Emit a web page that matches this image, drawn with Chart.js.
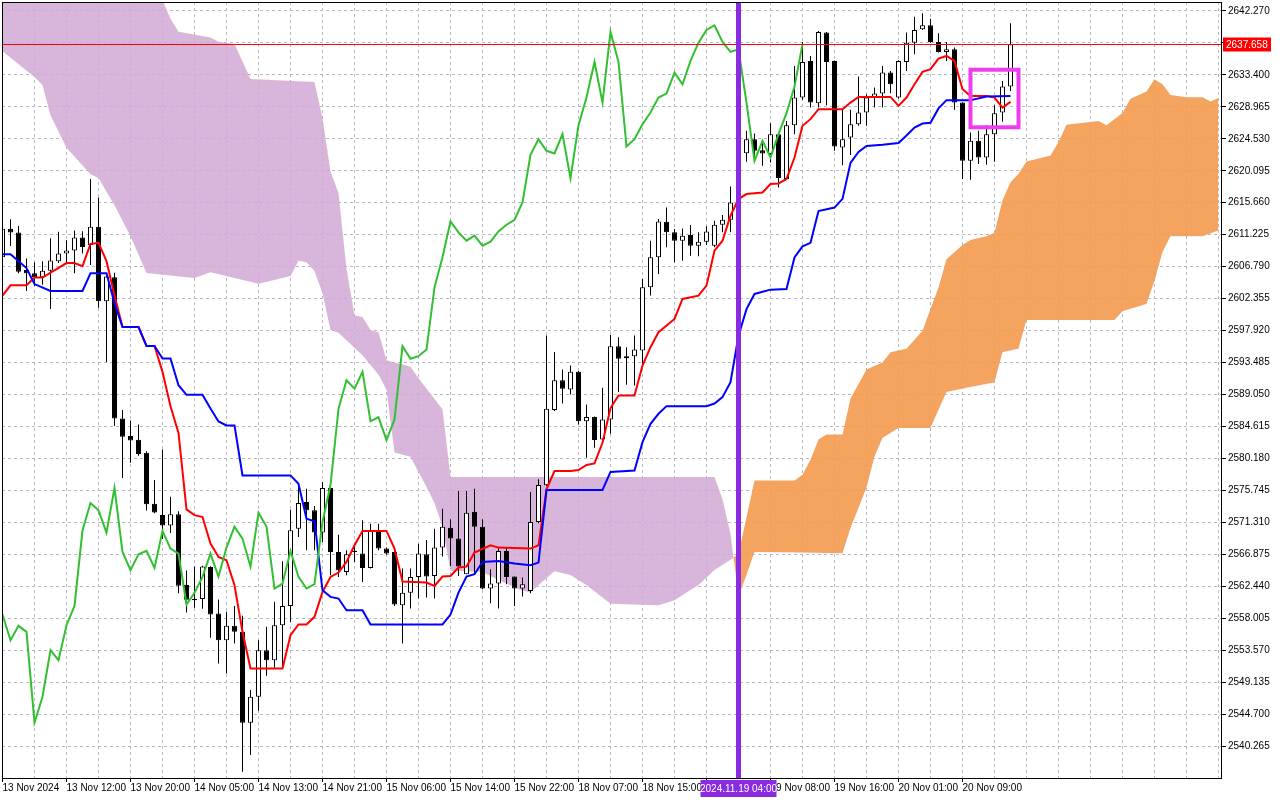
<!DOCTYPE html>
<html>
<head>
<meta charset="utf-8">
<script src="https://cdn.jsdelivr.net/npm/chart.js@4.4.1/dist/chart.umd.min.js"></script>
<style>
  html, body { margin: 0; padding: 0; background: #ffffff; }
  #chart { display: block; }
</style>
</head>
<body>
<canvas id="chart" width="1280" height="800"></canvas>
<script>
// H1 candles, bar 0 = 13 Nov 2024 04:00 ... bar 126 = 20 Nov 15:00
const opens = [2608.08, 2612.06, 2611.53, 2606.33, 2605.86, 2605.33, 2606.23, 2607.55, 2608.61, 2609.04,
  2610.84, 2609.78, 2612.32, 2601.99, 2605.33, 2585.72, 2583.28, 2582.75, 2580.95, 2573.90,
  2572.31, 2570.88, 2572.42, 2562.62, 2560.71, 2560.66, 2565.12, 2558.65, 2554.95, 2556.94,
  2556.11, 2543.50, 2547.10, 2553.57, 2552.18, 2557.03, 2559.71, 2570.43, 2574.13, 2572.97,
  2569.88, 2576.07, 2567.20, 2564.43, 2567.20, 2566.97, 2564.98, 2570.11, 2567.66, 2567.20,
  2559.80, 2561.52, 2563.73, 2566.87, 2563.87, 2567.80, 2570.57, 2569.05, 2564.10, 2572.79,
  2570.71, 2562.12, 2562.81, 2567.34, 2563.78, 2562.12, 2561.79, 2571.36, 2576.44, 2586.88,
  2591.04, 2589.74, 2592.19, 2585.35, 2585.91, 2582.81, 2585.58, 2595.75, 2594.08, 2594.36,
  2595.15, 2603.92, 2608.11, 2613.03, 2611.55, 2610.39, 2611.18, 2609.70, 2610.25, 2609.70,
  2612.61, 2613.30, 2615.71, 2622.54, 2624.48, 2622.96, 2622.41, 2625.18, 2618.94, 2626.42,
  2630.26, 2635.34, 2629.47, 2639.27, 2635.34, 2623.33, 2624.71, 2626.56, 2628.18, 2630.26,
  2630.81, 2633.72, 2630.26, 2635.20, 2637.88, 2639.73, 2640.28, 2637.97, 2636.59, 2636.96,
  2629.56, 2621.48, 2624.25, 2621.94, 2625.18, 2628.18, 2631.78];
const highs = [2612.30, 2613.38, 2612.43, 2607.92, 2607.39, 2607.55, 2610.73, 2611.63, 2610.47, 2611.79,
  2611.69, 2618.95, 2616.40, 2605.54, 2605.96, 2586.89, 2585.45, 2584.87, 2581.16, 2577.19,
  2581.43, 2574.86, 2572.84, 2564.63, 2565.16, 2565.27, 2565.20, 2560.59, 2558.88, 2559.71,
  2558.33, 2548.03, 2554.95, 2556.80, 2560.27, 2565.90, 2573.06, 2576.21, 2575.98, 2573.57,
  2576.90, 2576.21, 2569.60, 2567.43, 2568.12, 2571.59, 2571.12, 2571.12, 2567.80, 2567.30,
  2564.89, 2564.89, 2568.35, 2568.86, 2570.43, 2573.20, 2571.72, 2575.65, 2575.65, 2575.97,
  2571.72, 2564.79, 2567.80, 2567.80, 2563.80, 2563.64, 2575.51, 2577.27, 2597.23, 2594.96,
  2592.51, 2593.07, 2592.30, 2587.66, 2586.00, 2589.97, 2597.30, 2597.00, 2595.61, 2597.23,
  2605.08, 2610.39, 2613.40, 2615.01, 2612.01, 2612.10, 2612.56, 2611.55, 2612.38, 2613.16,
  2613.95, 2617.92, 2622.80, 2625.64, 2625.27, 2624.25, 2626.70, 2625.30, 2627.02, 2634.65,
  2637.97, 2636.03, 2639.50, 2639.36, 2635.40, 2628.55, 2628.55, 2633.17, 2630.72, 2631.64,
  2634.65, 2633.95, 2635.43, 2639.27, 2641.48, 2641.95, 2641.21, 2639.17, 2637.97, 2637.19,
  2629.60, 2625.41, 2625.64, 2626.42, 2629.20, 2632.57, 2640.56];
const lows = [2607.80, 2609.67, 2605.86, 2603.42, 2604.11, 2604.27, 2600.93, 2607.29, 2607.13, 2605.86,
  2608.61, 2607.02, 2601.09, 2593.51, 2584.66, 2577.45, 2579.57, 2580.53, 2572.95, 2572.58,
  2568.98, 2569.82, 2561.45, 2558.80, 2559.44, 2559.33, 2555.28, 2551.72, 2550.33, 2554.49,
  2536.70, 2539.02, 2545.16, 2550.01, 2551.12, 2551.12, 2557.49, 2569.28, 2567.43, 2567.43,
  2568.58, 2563.96, 2563.73, 2563.96, 2565.81, 2563.04, 2564.89, 2567.43, 2566.80, 2559.71,
  2554.49, 2559.34, 2560.73, 2560.87, 2560.73, 2566.55, 2565.26, 2563.87, 2564.10, 2564.10,
  2562.02, 2560.08, 2559.34, 2562.71, 2559.71, 2561.01, 2561.47, 2571.17, 2576.34, 2586.74,
  2587.80, 2589.05, 2584.89, 2580.27, 2581.66, 2582.72, 2583.60, 2589.40, 2590.39, 2590.29,
  2592.84, 2602.77, 2605.77, 2609.47, 2607.39, 2607.62, 2608.31, 2608.22, 2609.79, 2609.47,
  2611.55, 2611.55, 2614.90, 2621.34, 2621.48, 2620.79, 2621.25, 2617.78, 2618.80, 2625.18,
  2629.94, 2628.87, 2628.87, 2629.20, 2622.87, 2620.88, 2622.27, 2626.33, 2626.33, 2628.87,
  2628.87, 2630.86, 2630.12, 2633.95, 2636.26, 2639.64, 2637.88, 2636.50, 2635.34, 2628.55,
  2618.94, 2618.85, 2621.02, 2620.93, 2621.34, 2626.89, 2631.18];
const closes = [2612.06, 2611.53, 2606.07, 2605.86, 2605.33, 2606.23, 2607.66, 2608.61, 2609.04, 2610.84,
  2609.51, 2612.32, 2601.99, 2605.43, 2585.72, 2583.18, 2582.65, 2580.79, 2573.80, 2572.68,
  2570.88, 2572.42, 2562.51, 2560.55, 2560.50, 2565.16, 2558.51, 2554.95, 2556.94, 2556.11,
  2543.50, 2547.10, 2553.57, 2552.18, 2557.03, 2559.71, 2570.20, 2573.99, 2572.97, 2569.88,
  2576.07, 2567.20, 2564.66, 2566.87, 2567.35, 2564.98, 2570.11, 2567.66, 2566.97, 2559.90,
  2561.52, 2563.73, 2566.97, 2563.78, 2567.80, 2570.71, 2569.05, 2565.16, 2572.65, 2570.71,
  2562.12, 2562.81, 2567.34, 2563.73, 2562.12, 2562.72, 2571.36, 2576.48, 2587.06, 2591.04,
  2589.84, 2592.19, 2585.35, 2585.91, 2582.72, 2585.58, 2595.75, 2594.00, 2594.36, 2595.29,
  2603.92, 2608.11, 2613.07, 2611.55, 2610.39, 2611.09, 2609.70, 2610.25, 2611.68, 2612.61,
  2613.30, 2615.71, 2622.30, 2624.48, 2622.87, 2622.50, 2625.18, 2619.08, 2626.42, 2630.26,
  2635.20, 2629.56, 2639.36, 2635.20, 2623.47, 2624.48, 2626.56, 2628.18, 2630.26, 2630.81,
  2633.72, 2632.11, 2635.34, 2637.88, 2639.64, 2640.28, 2637.97, 2636.59, 2636.96, 2629.56,
  2621.48, 2624.25, 2621.94, 2625.18, 2628.09, 2631.78, 2637.658];

// time labels, one every 8 bars from bar 0
const timeLabels = ["13 Nov 2024", "13 Nov 12:00", "13 Nov 20:00", "14 Nov 05:00", "14 Nov 13:00",
  "14 Nov 21:00", "15 Nov 06:00", "15 Nov 14:00", "15 Nov 22:00", "18 Nov 07:00", "18 Nov 15:00",
  "19 Nov 00:00", "19 Nov 08:00", "19 Nov 16:00", "20 Nov 01:00", "20 Nov 09:00"];
// price axis labels, bottom to top
const priceTicks = [2540.265, 2544.700, 2549.135, 2553.570, 2558.005, 2562.440, 2566.875, 2571.310,
  2575.745, 2580.180, 2584.615, 2589.050, 2593.485, 2597.920, 2602.355, 2606.790, 2611.225,
  2615.660, 2620.095, 2624.530, 2628.965, 2633.400, 2637.835, 2642.270];

// ichimoku lines as [bar, price] where the line turns
const tenkan = [[0,2602.78],[1,2604.2],[3,2604.2],[4,2605.27],[5,2605.27],[8,2607.29],[9,2607.29],[10,2606.86],
  [11,2609.94],[12,2610.1],[13,2607.55],[14,2602.78],[15,2598.4],[17,2598.4],[18,2595.79],[19,2595.79],
  [20,2592.19],[21,2587.42],[22,2583.71],[23,2573.11],[24,2572.31],[25,2572.05],[26,2568.35],[27,2566.5],
  [28,2566.04],[29,2562.58],[30,2556.11],[31,2551.03],[35,2551.03],[36,2555.65],[37,2557.13],[38,2557.13],
  [39,2558.19],[40,2561.65],[41,2563.73],[42,2564.33],[43,2565.81],[44,2568.12],[45,2570.11],[48,2570.11],
  [49,2567.66],[50,2563.1],[53,2562.95],[54,2562.48],[55,2563.78],[56,2563.87],[57,2565.03],[58,2565.16],
  [59,2567.11],[61,2568.12],[62,2567.8],[66,2567.66],[67,2568.12],[68,2575.88],[69,2578.42],[71,2578.42],
  [72,2578.56],[73,2579.26],[74,2579.49],[75,2582.35],[76,2587.15],[77,2588.91],[79,2588.91],[80,2593.07],
  [81,2595.61],[82,2597.69],[84,2599.53],[85,2602.31],[87,2602.77],[88,2604.16],[89,2609.01],[90,2610.39],
  [91,2613.86],[92,2616.17],[93,2616.86],[95,2617.09],[96,2618.25],[97,2618.34],[98,2618.94],[99,2621.94],
  [100,2626.33],[101,2627.26],[102,2628.64],[105,2628.64],[106,2629.56],[107,2630.35],[111,2630.35],
  [112,2629.1],[113,2630.26],[114,2632.11],[115,2633.82],[116,2634.19],[117,2635.66],[118,2636.03],
  [119,2635.34],[120,2631.41],[121,2630.49],[123,2630.49],[124,2630.26],[125,2628.87],[126,2629.66]];
const kijun = [[0,2608.5],[1,2608.5],[3,2606.6],[4,2604.37],[6,2603.42],[10,2603.42],[11,2605.86],[13,2605.86],
  [14,2601.72],[15,2598.4],[17,2598.4],[18,2595.79],[19,2595.79],[20,2594.04],[21,2594.04],[22,2590.33],
  [23,2589.0],[25,2589.0],[26,2587.1],[27,2585.3],[28,2584.75],[29,2584.75],[30,2577.82],[36,2577.82],
  [37,2576.67],[38,2571.82],[39,2571.45],[40,2561.88],[41,2560.96],[42,2560.73],[43,2559.11],[45,2559.11],
  [46,2557.13],[55,2557.13],[56,2558.5],[57,2561.56],[58,2563.78],[59,2564.10],[60,2565.81],[62,2565.95],
  [64,2565.58],[66,2565.35],[67,2565.72],[68,2575.79],[75,2575.79],[76,2578.3],[79,2578.5],[80,2582.44],
  [81,2584.98],[82,2586.37],[83,2587.43],[88,2587.43],[89,2587.8],[90,2588.68],[91,2590.76],[92,2597.2],
  [93,2600.9],[94,2603.0],[96,2603.6],[98,2603.69],[99,2608.07],[100,2609.6],[101,2610.1],[102,2614.5],
  [104,2614.99],[105,2616.2],[106,2621.2],[107,2622.7],[108,2623.55],[110,2623.7],[112,2623.95],[113,2625.0],
  [114,2626.1],[115,2626.65],[116,2626.75],[117,2628.75],[118,2629.9],[121,2629.9],[123,2630.4],[126,2630.49]];
// cloud edges (senkou span A / B), already shifted 26 bars ahead
const spanA = [[0,2636.7],[4,2633.1],[5,2632.0],[6,2627.8],[8,2623.3],[11,2619.6],[12,2619.1],[14,2615.3],
  [16,2611.0],[18,2605.9],[24,2605.2],[26,2606.0],[32,2604.4],[36,2605.5],[37,2607.6],[38,2607.4],
  [39,2606.2],[40,2603.1],[41,2598.0],[42,2597.6],[45,2594.5],[47,2591.8],[48,2589.7],[49,2581.0],
  [51,2580.4],[53,2576.2],[54,2574.0],[55,2570.7],[56,2564.6],[60,2564.4],[62,2563.3],[65,2561.8],
  [66,2561.6],[67,2562.6],[69,2564.5],[71,2564.0],[73,2562.6],[76,2560.0],[82,2559.8],[84,2560.5],
  [86,2561.9],[87,2562.6],[89,2564.7],[91,2566.1],[92,2566.9],[93,2572.0],[94,2577.1],[99,2577.1],
  [100,2577.9],[101,2580.0],[102,2582.8],[103,2583.5],[105,2583.5],[106,2588.5],[108,2592.5],[110,2593.5],
  [111,2594.9],[113,2595.4],[115,2597.9],[116,2600.9],[117,2603.9],[118,2607.8],[120,2609.8],[121,2610.5],
  [123,2611.0],[124,2611.5],[125,2616.0],[126,2618.5],[127,2619.7],[128,2621.4],[131,2622.2],[132,2624.1],
  [133,2626.5],[137,2627.0],[138,2626.4],[140,2628.1],[141,2630.1],[143,2631.1],[144,2632.8],[145,2632.1],
  [146,2630.6],[148,2630.3],[150,2630.3],[151,2629.7],[152,2630.2]];
const spanB = [[0,2648.0],[19,2646.0],[20,2643.8],[21,2641.2],[22,2639.4],[26,2638.6],[27,2638.0],[29,2637.7],
  [31,2632.85],[39,2632.4],[40,2627.4],[41,2620.0],[42,2617.0],[43,2606.5],[44,2600.0],[45,2599.8],
  [46,2598.0],[47,2597.7],[48,2593.8],[51,2592.9],[52,2591.3],[55,2587.0],[56,2577.6],[89,2577.6],
  [90,2574.5],[91,2569.7],[92,2561.0],[93,2564.0],[94,2567.2],[105,2567.0],[106,2570.5],[108,2576.1],
  [109,2580.4],[110,2583.0],[112,2584.4],[116,2584.4],[118,2589.4],[121,2590.1],[124,2590.7],[125,2594.9],
  [127,2595.4],[128,2599.4],[139,2599.4],[140,2600.6],[143,2601.6],[144,2604.8],[145,2608.8],[146,2611.0],
  [150,2611.0],[152,2611.8]];
const chikouShift = 26; // chikou = close plotted 26 bars back

const bidPrice = 2637.658;
const markerBar = 92;
const markerLabel = "2024.11.19 04:00";
const boxBars = [121, 127];
const boxPrices = [2626.13, 2634.12];

const FONT = { family: "Liberation Sans", size: 10 };
const gridColor = "#b9b9c6";

const toXY = pts => pts.map(p => ({ x: p[0], y: p[1] }));
const barIdx = opens.map((o, i) => i);
const wickData = barIdx.map(i => ({ x: i, y: [lows[i], highs[i]] }));
const bodyData = barIdx.map(i => ({ x: i, y: [opens[i], closes[i]] }));
const bodyColors = barIdx.map(i => (closes[i] >= opens[i] ? "#ffffff" : "#000000"));
const chikouData = closes.slice(chikouShift).map((c, i) => ({ x: i, y: c }));

function labelForBar(v) {
  if (v % 8 !== 0) return "";
  const k = v / 8;
  return k < timeLabels.length ? timeLabels[k] : "";
}

// no automatic label padding, the plot area is fixed
function noPadding(s) {
  s.paddingTop = 0; s.paddingBottom = 0; s.paddingLeft = 0; s.paddingRight = 0;
}

// extra drawing: bid line, rectangle object, vertical line, frame and axis boxes
const overlay = {
  id: "overlay",
  afterDatasetsDraw(chart) {
    const { ctx, chartArea: a, scales } = chart;
    ctx.save();
    // bid line
    const py = Math.round(scales.y.getPixelForValue(bidPrice)) + 0.5;
    ctx.strokeStyle = "#ff0000";
    ctx.lineWidth = 1;
    ctx.beginPath();
    ctx.moveTo(a.left, py);
    ctx.lineTo(a.right, py);
    ctx.stroke();
    // rectangle
    const x1 = scales.x.getPixelForValue(boxBars[0]);
    const x2 = scales.x.getPixelForValue(boxBars[1]);
    const y1 = scales.y.getPixelForValue(boxPrices[1]);
    const y2 = scales.y.getPixelForValue(boxPrices[0]);
    ctx.strokeStyle = "#ee3cee";
    ctx.lineWidth = 4;
    ctx.strokeRect(x1, y1, x2 - x1, y2 - y1);
    // vertical line
    const vx = scales.x.getPixelForValue(markerBar);
    ctx.fillStyle = "#8a2be2";
    ctx.fillRect(vx - 2.5, a.top, 5, a.bottom - a.top);
    ctx.restore();
  },
  afterDraw(chart) {
    const { ctx, chartArea: a, scales } = chart;
    ctx.save();
    ctx.strokeStyle = "#000000";
    ctx.lineWidth = 1;
    ctx.strokeRect(a.left + 0.5, a.top + 0.5, a.right - a.left - 1, a.bottom - a.top);
    ctx.font = FONT.size + "px " + FONT.family;
    ctx.textBaseline = "middle";
    // bid price box on the price axis
    const py = Math.round(scales.y.getPixelForValue(bidPrice)) + 0.5;
    ctx.fillStyle = "#ff0000";
    ctx.fillRect(a.right + 1, py - 7, 48, 14);
    ctx.fillStyle = "#ffffff";
    ctx.textAlign = "left";
    ctx.fillText(bidPrice.toFixed(3), a.right + 4, py + 0.5);
    // time box for the vertical line
    const vx = scales.x.getPixelForValue(markerBar);
    ctx.fillStyle = "#8a2be2";
    ctx.fillRect(vx - 38, a.bottom + 2, 76, 17);
    ctx.fillStyle = "#ffffff";
    ctx.textAlign = "center";
    ctx.fillText(markerLabel, vx, a.bottom + 11);
    ctx.restore();
  }
};

new Chart(document.getElementById("chart"), {
  type: "line",
  data: {
    datasets: [
      {
        type: "line", data: toXY(spanA), order: 10,
        borderColor: "rgba(0,0,0,0)", borderWidth: 1, pointRadius: 0, tension: 0,
        fill: { target: 1, above: "rgba(243,154,78,0.9)", below: "rgba(209,168,212,0.85)" }
      },
      {
        type: "line", data: toXY(spanB), order: 9,
        borderColor: "rgba(0,0,0,0)", borderWidth: 1, pointRadius: 0, tension: 0, fill: false
      },
      {
        type: "bar", data: wickData, order: 6, grouped: false,
        backgroundColor: "#000000", barThickness: 1, borderWidth: 0, inflateAmount: 0
      },
      {
        type: "bar", data: bodyData, order: 5, grouped: false,
        backgroundColor: bodyColors, borderColor: "#000000", borderWidth: 1,
        borderSkipped: false, barThickness: 5, minBarLength: 1, inflateAmount: 0
      },
      {
        type: "line", data: toXY(tenkan), order: 3,
        borderColor: "#ff0000", borderWidth: 2, pointRadius: 0, tension: 0, fill: false
      },
      {
        type: "line", data: toXY(kijun), order: 2,
        borderColor: "#0000ff", borderWidth: 2, pointRadius: 0, tension: 0, fill: false
      },
      {
        type: "line", data: chikouData, order: 1,
        borderColor: "#32c032", borderWidth: 2, pointRadius: 0, tension: 0, fill: false
      }
    ]
  },
  options: {
    responsive: false,
    animation: false,
    devicePixelRatio: 1,
    layout: { padding: { left: 2, top: 2, right: 0, bottom: 0 } },
    plugins: { legend: { display: false }, tooltip: { enabled: false } },
    scales: {
      x: {
        type: "linear", min: -0.0625, max: 152.4375, offset: false,
        afterFit: s => { s.height = 22; noPadding(s); },
        afterBuildTicks: s => {
          const t = [];
          for (let b = 0; b <= 152; b += 4) t.push({ value: b });
          s.ticks = t;
        },
        grid: {
          color: gridColor, lineWidth: 1, tickLength: 4, offset: false,
          tickColor: c => (c.tick && labelForBar(c.tick.value) ? "#000000" : "rgba(0,0,0,0)")
        },
        border: { display: false, dash: [3, 3] },
        ticks: {
          autoSkip: false, maxRotation: 0, minRotation: 0, align: "start", padding: 0,
          color: "#000000", font: FONT, callback: v => labelForBar(v)
        }
      },
      y: {
        type: "linear", position: "right", min: 2535.824, max: 2643.519,
        afterFit: s => { s.width = 58; noPadding(s); },
        afterBuildTicks: s => { s.ticks = priceTicks.map(v => ({ value: v })); },
        grid: { color: gridColor, lineWidth: 1, tickLength: 4, tickColor: "#000000" },
        border: { display: false, dash: [3, 3] },
        ticks: { color: "#000000", font: FONT, padding: 2, callback: v => Number(v).toFixed(3) }
      }
    }
  },
  plugins: [overlay]
});
</script>
</body>
</html>
